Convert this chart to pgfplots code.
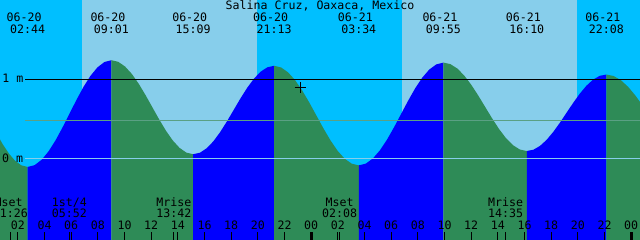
\documentclass[border=0pt]{standalone}
\usepackage{pgfplots}
\pgfplotsset{compat=1.18}
\usepackage{pgfplotstable}
\usepgfplotslibrary{fillbetween}
\usepackage{fontspec}
\newfontfamily\mono{DejaVu Sans Mono}
\newcommand\lbl{\mono\fontsize{11.6pt}{13pt}\selectfont}
\definecolor{night}{RGB}{0,191,255}
\definecolor{day}{RGB}{135,206,235}
\definecolor{rising}{RGB}{0,0,255}
\definecolor{falling}{RGB}{46,139,87}
\definecolor{midline}{RGB}{90,160,132}
\definecolor{zeroline}{RGB}{135,206,235}

\pgfplotstableread{
t v
0.386 0.326
0.855 0.1875
1.325 0.0684
1.794 -0.0230
2.263 -0.0804
2.733 -0.100
3.257 -0.0772
3.780 -0.0102
4.304 0.0962
4.828 0.235
5.351 0.3966
5.875 0.570
6.399 0.7434
6.922 0.905
7.446 1.0438
7.970 1.1502
8.493 1.2172
9.017 1.240
9.528 1.2199
10.039 1.1610
10.550 1.0672
11.061 0.945
11.573 0.8027
12.084 0.650
12.595 0.4973
13.106 0.355
13.617 0.2328
14.128 0.1390
14.639 0.0801
15.150 0.060
15.656 0.0789
16.161 0.1344
16.667 0.2226
17.172 0.3375
17.678 0.4714
18.184 0.615
18.689 0.7587
19.195 0.8925
19.700 1.0074
20.206 1.0956
20.711 1.1511
21.217 1.170
21.746 1.1487
22.275 1.0863
22.804 0.9869
23.334 0.8575
23.863 0.7068
24.392 0.545
24.921 0.3832
25.450 0.2325
25.980 0.1031
26.509 0.0037
27.038 -0.0587
27.567 -0.080
28.096 -0.0580
28.625 0.0064
29.154 0.1089
29.684 0.2425
30.213 0.3981
30.742 0.565
31.271 0.7319
31.800 0.8875
32.330 1.0211
32.859 1.1236
33.388 1.1880
33.917 1.210
34.438 1.1911
34.959 1.1356
35.479 1.0474
36.000 0.9325
36.521 0.7987
37.042 0.655
37.563 0.5114
38.084 0.3775
38.604 0.2626
39.125 0.1744
39.646 0.1189
40.167 0.100
40.664 0.1164
41.161 0.1643
41.658 0.2406
42.156 0.340
42.653 0.4558
43.150 0.580
43.647 0.7042
44.144 0.820
44.641 0.9194
45.139 0.9957
45.636 1.0436
46.133 1.060
46.680 1.0419
47.228 0.9890
47.775 0.9048
48.322 0.795
48.869 0.6672
}\tide

\begin{document}
\begin{tikzpicture}
\begin{axis}[
  scale only axis, width=640pt, height=240pt,
  xmin=0.66, xmax=48.66, ymin=-1.0167, ymax=1.9958,
  axis line style={draw=none},
  axis on top=true,
  fill between/on layer=main,
  ytick=\empty,
  xtick pos=bottom,
  xtick={2,4,...,48},
  xticklabels={02,04,06,08,10,12,14,16,18,20,22,00,02,04,06,08,10,12,14,16,18,20,22,00},
  extra x ticks={1.433,5.867,13.7,26.133,38.583},
  extra x tick labels={},
  tick align=inside,
  major tick length=7.5pt,
  tick style={black, line width=1pt},
  xticklabel style={font=\lbl, anchor=base, inner sep=0pt, yshift=10.7pt},
  clip=true,
]
\coordinate (SW) at (rel axis cs:0,0);
\coordinate (NE) at (rel axis cs:1,1);
% sky background
\addplot[fill=night, draw=none] coordinates {(0,-1.1) (0,2.1) (6.81,2.1) (6.81,-1.1)} -- cycle;
\addplot[fill=day, draw=none] coordinates {(6.81,-1.1) (6.81,2.1) (19.935,2.1) (19.935,-1.1)} -- cycle;
\addplot[fill=night, draw=none] coordinates {(19.935,-1.1) (19.935,2.1) (30.81,2.1) (30.81,-1.1)} -- cycle;
\addplot[fill=day, draw=none] coordinates {(30.81,-1.1) (30.81,2.1) (43.935,2.1) (43.935,-1.1)} -- cycle;
\addplot[fill=night, draw=none] coordinates {(43.935,-1.1) (43.935,2.1) (49,2.1) (49,-1.1)} -- cycle;
% tide
\addplot[draw=none, name path=tide] table[x=t,y=v] {\tide};
\addplot[draw=none, name path=bot] coordinates {(0,-1.1) (49,-1.1)};
\addplot[falling] fill between[of=tide and bot, soft clip={domain=0.3:2.733}];
\addplot[rising] fill between[of=tide and bot, soft clip={domain=2.733:9.017}];
\addplot[falling] fill between[of=tide and bot, soft clip={domain=9.017:15.15}];
\addplot[rising] fill between[of=tide and bot, soft clip={domain=15.15:21.217}];
\addplot[falling] fill between[of=tide and bot, soft clip={domain=21.217:27.567}];
\addplot[rising] fill between[of=tide and bot, soft clip={domain=27.567:33.917}];
\addplot[falling] fill between[of=tide and bot, soft clip={domain=33.917:40.167}];
\addplot[rising] fill between[of=tide and bot, soft clip={domain=40.167:46.133}];
\addplot[falling] fill between[of=tide and bot, soft clip={domain=46.133:48.9}];
% level lines
\addplot[black, line width=1pt] coordinates {(2.535,1) (49,1)};
\addplot[midline, line width=1pt] coordinates {(2.535,0.486) (49,0.486)};
\addplot[zeroline, line width=1pt] coordinates {(2.535,0) (49,0)};
% current time marker
\addplot[black, only marks, mark=+, mark size=5.5pt, mark options={line width=0.9pt}] coordinates {(23.16,0.90)};
% midnight ticks
\addplot[black, line width=3pt] coordinates {(24,-1.0167) (24,-0.922)};
\addplot[black, line width=3pt] coordinates {(48,-1.0167) (48,-0.922)};
% texts
\tikzset{lab/.style={font=\lbl, anchor=base, inner sep=0pt, text=black}}
\node[lab] at (axis cs:24.66,1.879) {Salina Cruz, Oaxaca, Mexico};
\node[lab, anchor=base west] at (axis cs:0.83,0.954) {1 m};
\node[lab, anchor=base west] at (axis cs:0.81,-0.046) {0 m};
\node[lab] at (axis cs:2.473,1.732) {06-20};  \node[lab] at (axis cs:2.733,1.578) {02:44};
\node[lab] at (axis cs:8.757,1.732) {06-20};  \node[lab] at (axis cs:9.017,1.578) {09:01};
\node[lab] at (axis cs:14.89,1.732) {06-20};  \node[lab] at (axis cs:15.15,1.578) {15:09};
\node[lab] at (axis cs:20.957,1.732) {06-20}; \node[lab] at (axis cs:21.217,1.578) {21:13};
\node[lab] at (axis cs:27.307,1.732) {06-21}; \node[lab] at (axis cs:27.567,1.578) {03:34};
\node[lab] at (axis cs:33.657,1.732) {06-21}; \node[lab] at (axis cs:33.917,1.578) {09:55};
\node[lab] at (axis cs:39.907,1.732) {06-21}; \node[lab] at (axis cs:40.167,1.578) {16:10};
\node[lab] at (axis cs:45.873,1.732) {06-21}; \node[lab] at (axis cs:46.133,1.578) {22:08};
\node[lab] at (axis cs:1.3,-0.590) {Mset};   \node[lab] at (axis cs:1.433,-0.732) {01:26};
\node[lab] at (axis cs:5.867,-0.590) {1st/4}; \node[lab] at (axis cs:5.867,-0.732) {05:52};
\node[lab] at (axis cs:13.7,-0.590) {Mrise};  \node[lab] at (axis cs:13.7,-0.732) {13:42};
\node[lab] at (axis cs:26.133,-0.590) {Mset}; \node[lab] at (axis cs:26.133,-0.732) {02:08};
\node[lab] at (axis cs:38.583,-0.590) {Mrise}; \node[lab] at (axis cs:38.583,-0.732) {14:35};
\end{axis}
\pgfresetboundingbox
\path[use as bounding box] (SW) rectangle (NE);
\end{tikzpicture}
\end{document}
